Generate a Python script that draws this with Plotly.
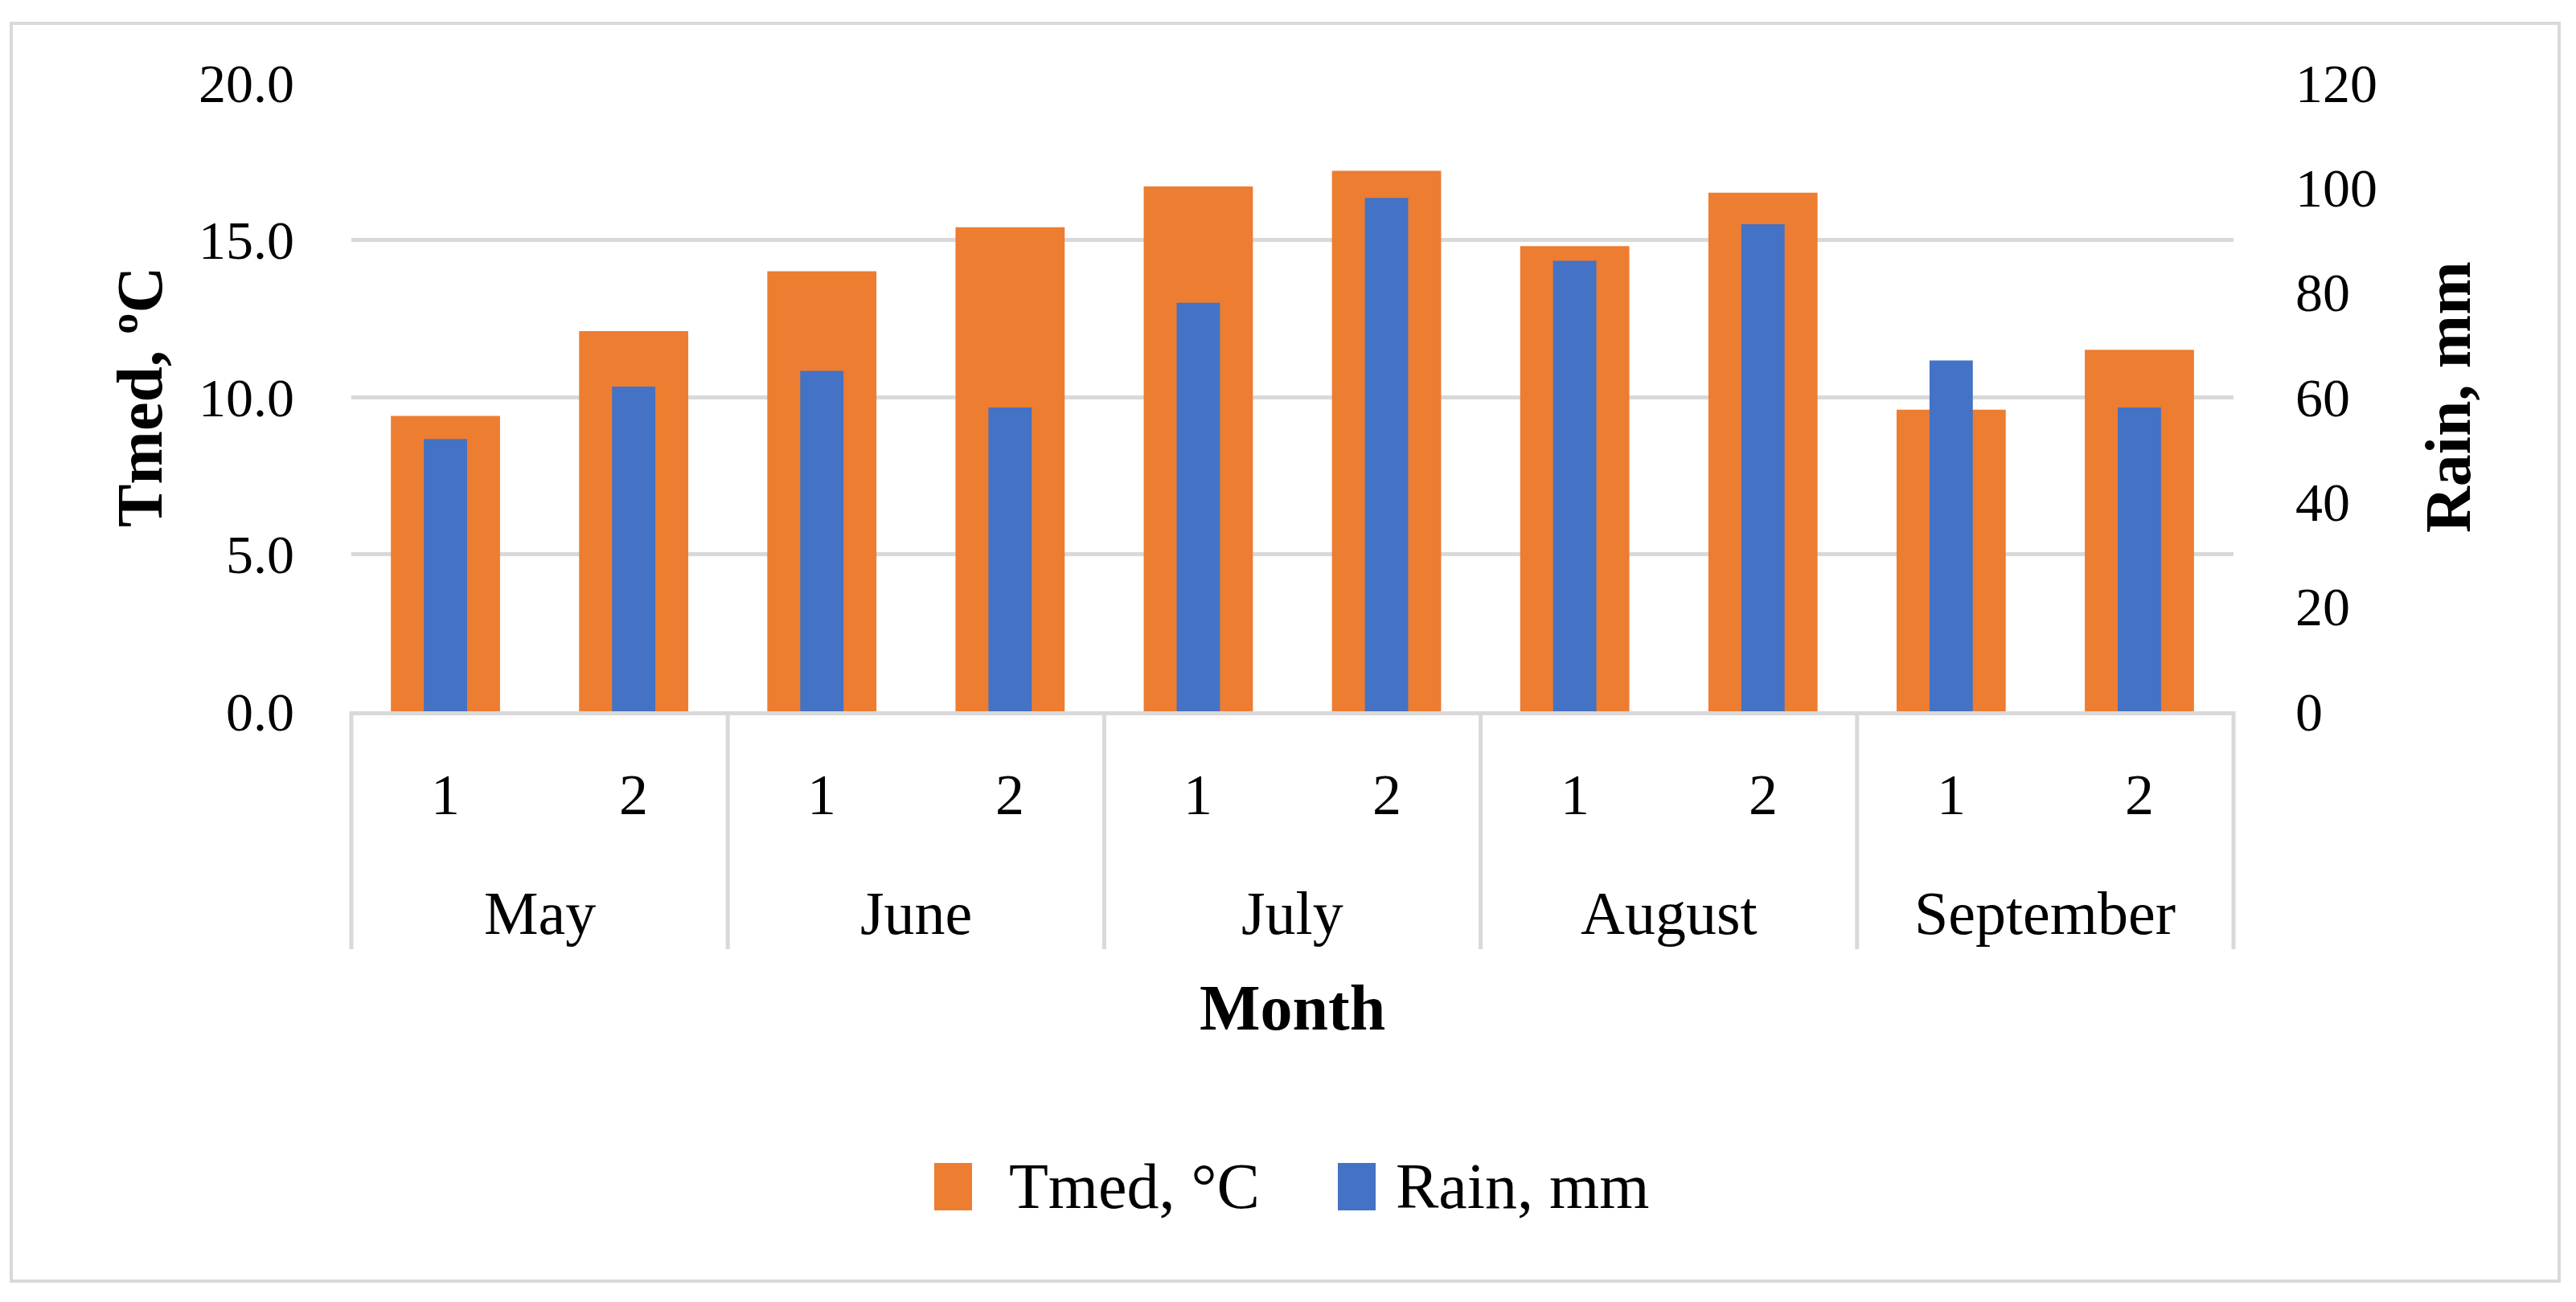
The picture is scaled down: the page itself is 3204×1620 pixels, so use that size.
import plotly.graph_objects as go

months = ["May", "June", "July", "August", "September"]
halves = ["1", "2"]
tmed = [9.4, 12.1, 14.0, 15.4, 16.7, 17.2, 14.8, 16.5, 9.6, 11.5]
rain = [52, 62, 65, 58, 78, 98, 86, 93, 67, 58]
left_ticks = [0, 5, 10, 15, 20]
right_ticks = [0, 20, 40, 60, 80, 100, 120]

ORANGE = "#ED7D31"
BLUE = "#4472C4"
GRID = "#D9D9D9"
FONT = "Liberation Serif"

cats = [f"{m}-{h}" for m in months for h in halves]

fig = go.Figure()
fig.add_trace(go.Bar(x=cats, y=tmed, name="Tmed, °C", marker_color=ORANGE,
                     marker_line_width=0, width=0.58, yaxis="y", showlegend=False))
fig.add_trace(go.Bar(x=cats, y=rain, name="Rain, mm", marker_color=BLUE,
                     marker_line_width=0, width=0.23, yaxis="y2", showlegend=False))

W, H = 3204, 1620
OFF = 8  # page body margin offset
# plot area in screen pixels
PL, PR, PT, PB = 437, 2778, 103, 885
L, T = PL - OFF, PT - OFF
R, B = W - (PR - OFF), H - (PB - OFF)
pw, ph = PR - PL, PB - PT


def px(xp):
    return (xp - PL) / pw


def py(yp):
    return (PB - yp) / ph


fig.update_layout(
    width=W, height=H,
    margin=dict(l=L, r=R, t=T, b=B),
    paper_bgcolor="white", plot_bgcolor="white",
    barmode="overlay",
    font=dict(family=FONT, color="black", size=68),
    xaxis=dict(type="category", showticklabels=False, showgrid=False,
               showline=True, linecolor=GRID, linewidth=5,
               range=[-0.5, len(cats) - 0.5], ticks=""),
    yaxis=dict(range=[0, 20], tickvals=left_ticks, tickformat=".1f",
               showgrid=True, gridcolor=GRID, gridwidth=5, zeroline=False,
               showline=False, ticks="", ticklabelstandoff=70,
               tickfont=dict(size=68, family=FONT, color="black")),
    yaxis2=dict(range=[0, 120], tickvals=right_ticks, overlaying="y", side="right",
                showgrid=False, zeroline=False, showline=False, ticks="",
                ticklabelstandoff=76,
                tickfont=dict(size=68, family=FONT, color="black")),
)

annotations = []
shapes = []

# half-month labels and month labels
for i, c in enumerate(cats):
    annotations.append(dict(x=i, y=py(989), xref="x", yref="paper", text=halves[i % 2],
                            showarrow=False, font=dict(size=72, family=FONT, color="black"),
                            xanchor="center", yanchor="middle"))
for k, m in enumerate(months):
    annotations.append(dict(x=2 * k + 0.5, y=py(1136), xref="x", yref="paper", text=m,
                            showarrow=False, font=dict(size=76, family=FONT, color="black"),
                            xanchor="center", yanchor="middle"))
for k in range(len(months) + 1):
    shapes.append(dict(type="line", xref="paper", yref="paper",
                       x0=k / len(months), x1=k / len(months), y0=0, y1=py(1181),
                       line=dict(color=GRID, width=5)))

# axis titles
annotations.append(dict(x=0.5, y=py(1254), xref="paper", yref="paper", text="<b>Month</b>",
                        showarrow=False, font=dict(size=80, family=FONT, color="black"),
                        xanchor="center", yanchor="middle"))
annotations.append(dict(x=px(174), y=py(494), xref="paper", yref="paper", text="<b>Tmed, ºC</b>",
                        showarrow=False, textangle=-90,
                        font=dict(size=80, family=FONT, color="black"),
                        xanchor="center", yanchor="middle"))
annotations.append(dict(x=px(3045), y=py(494), xref="paper", yref="paper", text="<b>Rain, mm</b>",
                        showarrow=False, textangle=-90,
                        font=dict(size=80, family=FONT, color="black"),
                        xanchor="center", yanchor="middle"))

# legend (drawn)
legend_items = [("Tmed, °C", ORANGE, 1162, 1253), ("Rain, mm", BLUE, 1664, 1734)]
for name, col, x0, tx in legend_items:
    shapes.append(dict(type="rect", xref="paper", yref="paper",
                       x0=px(x0), x1=px(x0 + 47), y0=py(1447), y1=py(1506),
                       fillcolor=col, line=dict(width=0)))
    annotations.append(dict(x=px(tx), y=py(1476), xref="paper", yref="paper", text=name,
                            showarrow=False, font=dict(size=80, family=FONT, color="black"),
                            xanchor="left", yanchor="middle"))

# outer border
shapes.append(dict(type="rect", xref="paper", yref="paper",
                   x0=px(14), x1=px(3183), y0=py(1594), y1=py(29),
                   line=dict(color=GRID, width=4), fillcolor="rgba(0,0,0,0)", layer="below"))

fig.update_layout(annotations=annotations, shapes=shapes)
fig.write_html("out.html")
